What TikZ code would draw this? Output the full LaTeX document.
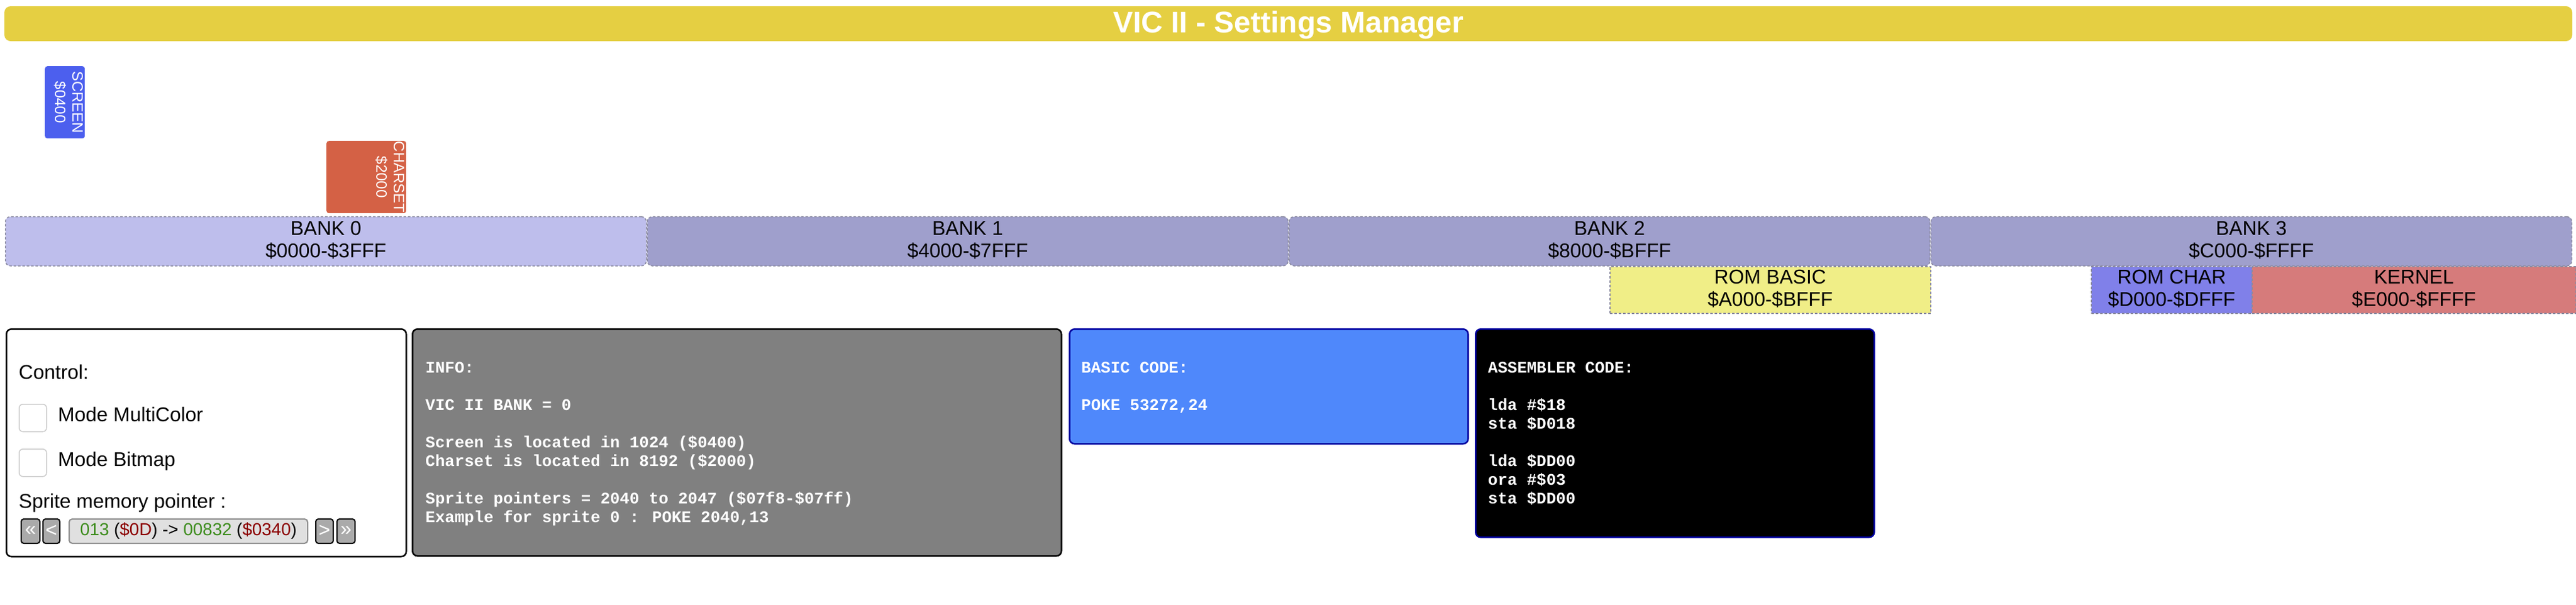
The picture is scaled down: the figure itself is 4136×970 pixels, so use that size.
\documentclass[tikz,border=0pt]{standalone}
\usepackage{fontspec}
\setmainfont{Liberation Sans}
\newfontfamily\codefont{Liberation Mono}
\definecolor{vicyellow}{HTML}{E5CF42}
\definecolor{screenblue}{HTML}{4C5FEE}
\definecolor{charsetred}{HTML}{D46145}
\definecolor{bankon}{HTML}{BEBEEC}
\definecolor{bankoff}{HTML}{9F9FCC}
\definecolor{bankline}{HTML}{8A8AA0}
\definecolor{rombasic}{HTML}{F0EE87}
\definecolor{romchar}{HTML}{8080E9}
\definecolor{kernelred}{HTML}{D67B7B}
\definecolor{infogray}{HTML}{808080}
\definecolor{basicblue}{HTML}{4F88FB}
\definecolor{codeline}{HTML}{0000A0}
\definecolor{btngray}{HTML}{AAAAAA}
\definecolor{dispgray}{HTML}{E0E0E0}
\definecolor{displine}{HTML}{8C8C8C}
\definecolor{chkline}{HTML}{CCCCCC}
\definecolor{numgreen}{HTML}{3C8C1C}
\definecolor{hexred}{HTML}{8B0000}
\newcommand\headtxt{\fontsize{48}{56}\selectfont\bfseries}
\newcommand\banktxt{\fontsize{32}{36.5}\selectfont}
\newcommand\tagtxt{\fontsize{24}{28}\selectfont}
\newcommand\disptxt{\fontsize{28}{32}\selectfont}
\newcommand\codetxt{\codefont\bfseries\fontsize{26}{30}\selectfont}
\tikzset{
  % 标题条
  titlebar/.style={fill=vicyellow, rounded corners=10pt, minimum width=4123pt,
    minimum height=56pt, inner sep=0pt, text=white, font=\headtxt, text depth=5pt},
  % 内存 bank
  bank/.style={draw=bankline, dash pattern=on 4pt off 3pt, line width=1.5pt,
    rounded corners=8pt, minimum width=1029pt, minimum height=79pt, inner sep=0pt,
    anchor=north west, align=center, font=\banktxt, text depth=6pt},
  % ROM 区
  rom/.style={bank, sharp corners, minimum height=75pt},
  % 竖排标签
  tag/.style={rounded corners=4pt, minimum height=116pt, inner sep=0pt, anchor=north west},
  taglab/.style={rotate=-90, anchor=north, align=center, text=white, font=\tagtxt, inner sep=3pt},
  % 面板
  panel/.style={line width=2.5pt, rounded corners=8pt, inner sep=0pt, anchor=north west},
  code/.style={anchor=north west, align=left, text=white, font=\codetxt, inner sep=0pt},
  ctrl/.style={anchor=base west, font=\banktxt, inner sep=0pt},
  chk/.style={draw=chkline, line width=1.5pt, fill=white, rounded corners=6pt,
    minimum size=44pt, inner sep=0pt, anchor=north west},
  btn/.style={draw=black, line width=2pt, fill=btngray, rounded corners=4pt,
    minimum height=39pt, inner sep=0pt, anchor=north west, text=white, font=\banktxt},
}
\begin{document}
\begin{tikzpicture}[x=1pt, y=-1pt]
    \useasboundingbox (0,0) rectangle (4136,970);

    % 标题
    \node[titlebar] (title) at (2068.5,38) {VIC II - Settings Manager};

    % 屏幕与字符集
    \node[tag, fill=screenblue, minimum width=64pt] (screen) at (72,106) {};
    \node[taglab] (screenlab) at (screen.east) {SCREEN\\\$0400};
    \node[tag, fill=charsetred, minimum width=128pt] (charset) at (524,226) {};
    \node[taglab] (charsetlab) at (charset.east) {CHARSET\\\$2000};

    % 四个 bank
    \node[bank, fill=bankon] (bank0) at (8,347) {BANK 0\\\$0000-\$3FFF};
    \node[bank, fill=bankoff] (bank1) at (1038.5,347) {BANK 1\\\$4000-\$7FFF};
    \node[bank, fill=bankoff] (bank2) at (2069,347) {BANK 2\\\$8000-\$BFFF};
    \node[bank, fill=bankoff] (bank3) at (3099.5,347) {BANK 3\\\$C000-\$FFFF};

    % ROM
    \node[rom, fill=rombasic, minimum width=515pt] (rombasic) at (2584,427) {ROM BASIC\\\$A000-\$BFFF};
    \node[rom, fill=romchar, minimum width=258pt] (romchar) at (3357,427) {ROM CHAR\\\$D000-\$DFFF};
    \node[rom, fill=kernelred, minimum width=520pt] (kernel) at (3615,427) {KERNEL\\\$E000-\$FFFF};

    % 控制面板
    \node[panel, draw=black, fill=white, minimum width=642pt, minimum height=365pt] (control) at (9,527) {};
    \node[ctrl] (ctrltitle) at (30,608) {Control:};
    \node[chk] (chkmulti) at (30,648) {};
    \node[ctrl] (lblmulti) at (93,676) {Mode MultiColor};
    \node[chk] (chkbitmap) at (30,720) {};
    \node[ctrl] (lblbitmap) at (93,748) {Mode Bitmap};
    \node[ctrl] (lblsprite) at (30,815) {Sprite memory pointer :};
    \node[btn, minimum width=30pt] (first) at (33,832) {«};
    \node[btn, minimum width=27pt] (prev) at (68,832) {<};
    \node[draw=displine, line width=2pt, fill=dispgray, rounded corners=5pt, minimum width=383pt,
      minimum height=39pt, inner sep=0pt, anchor=north west, font=\disptxt] (pointer) at (110,832)
      {\textcolor{numgreen}{013} (\textcolor{hexred}{\$0D}) -> \textcolor{numgreen}{00832} (\textcolor{hexred}{\$0340})};
    \node[btn, minimum width=28pt] (next) at (506,832) {>};
    \node[btn, minimum width=29pt] (last) at (540,832) {»};

    % 信息
    \node[panel, draw=black, fill=infogray, minimum width=1042pt, minimum height=364pt] (info) at (661,527) {};
    \node[code] (infotxt) at (683,577) {\rule{0pt}{21pt}INFO:\\[30pt]VIC II BANK = 0\\[30pt]%
      Screen is located in 1024 (\$0400)\\Charset is located in 8192 (\$2000)\\[30pt]%
      Sprite pointers = 2040 to 2047 (\$07f8-\$07ff)\\Example for sprite 0 : POKE 2040,13};

    % BASIC 代码
    \node[panel, draw=codeline, fill=basicblue, minimum width=640pt, minimum height=184pt] (basic) at (1716,527) {};
    \node[code] (basictxt) at (1736,577) {\rule{0pt}{21pt}BASIC CODE:\\[30pt]POKE 53272,24};

    % 汇编代码
    \node[panel, draw=codeline, fill=black, minimum width=640pt, minimum height=334pt] (asm) at (2368,527) {};
    \node[code] (asmtxt) at (2389,577) {\rule{0pt}{21pt}ASSEMBLER CODE:\\[30pt]lda \#\$18\\sta \$D018\\[30pt]%
      lda \$DD00\\ora \#\$03\\sta \$DD00};
\end{tikzpicture}
\end{document}
